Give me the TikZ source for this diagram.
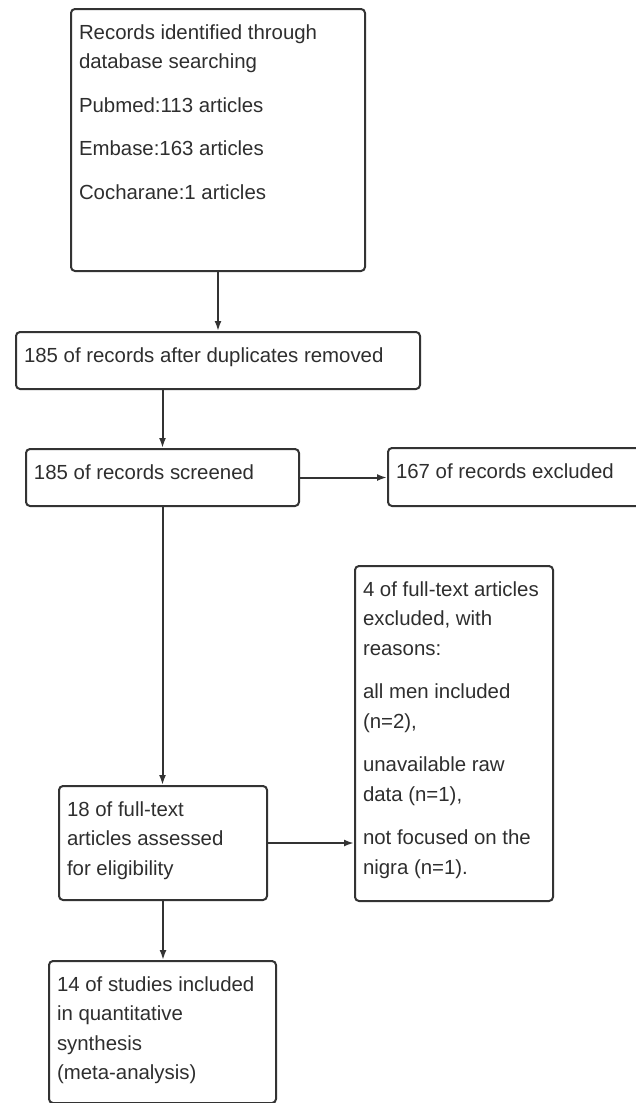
\documentclass[tikz,border=0pt]{standalone}
\usepackage{fontspec}
\setmainfont{Liberation Sans}
\usetikzlibrary{arrows.meta}
\definecolor{linegray}{gray}{0.2}
\definecolor{textgray}{gray}{0.18}
\newcommand{\boxtext}[3]{\parbox[b][#2][t]{#1}{\raggedright\setlength{\parskip}{14pt}\rule{0pt}{30pt}#3\par}}

\begin{document}
\begin{tikzpicture}[x=1pt,y=-1pt,
  stagebox/.style={draw=linegray,line width=2pt,rounded corners=4pt,anchor=north west,
    inner xsep=8pt,inner ysep=0pt,text=textgray,font={\fontsize{20.4}{29.5}\selectfont}},
  flowarrow/.style={draw=linegray,line width=2pt,-{Latex[length=10pt,width=7pt]}}]
\useasboundingbox (0,0) rectangle (636,1103);
\node[stagebox] (rec) at (70,8) {\boxtext{278pt}{262pt}{Records identified through\\database searching\par
  Pubmed:113 articles\par Embase:163 articles\par Cocharane:1 articles}};
\node[stagebox] (dup) at (15,331) {\boxtext{388pt}{57pt}{185 of records after duplicates removed}};
\node[stagebox] (scr) at (25,448) {\boxtext{257pt}{57pt}{185 of records screened}};
\node[stagebox] (exc) at (387,447) {\boxtext{254pt}{58pt}{167 of records excluded}};
\node[stagebox] (full) at (58,785) {\boxtext{192pt}{114pt}{18 of full-text\\articles assessed\\for eligibility}};
\node[stagebox] (fexc) at (354,565) {\boxtext{182pt}{335pt}{4 of full-text articles\\excluded, with\\reasons:\par
  all men included\\(n=2),\par unavailable raw\\data (n=1),\par not focused on the\\nigra (n=1).}};
\node[stagebox] (incl) at (48,960) {\boxtext{211pt}{142pt}{14 of studies included\\in quantitative\\synthesis\\(meta-analysis)}};
\draw[flowarrow] (rec.south) -- (dup.north);
\draw[flowarrow] (dup.south -| scr.north) -- (scr.north);
\draw[flowarrow] (scr.east) -- (scr.east -| exc.west);
\draw[flowarrow] (scr.south) -- (scr.south |- full.north);
\draw[flowarrow] (full.east) -- (full.east -| fexc.west);
\draw[flowarrow] (full.south) -- (full.south |- incl.north);
\end{tikzpicture}
\end{document}
